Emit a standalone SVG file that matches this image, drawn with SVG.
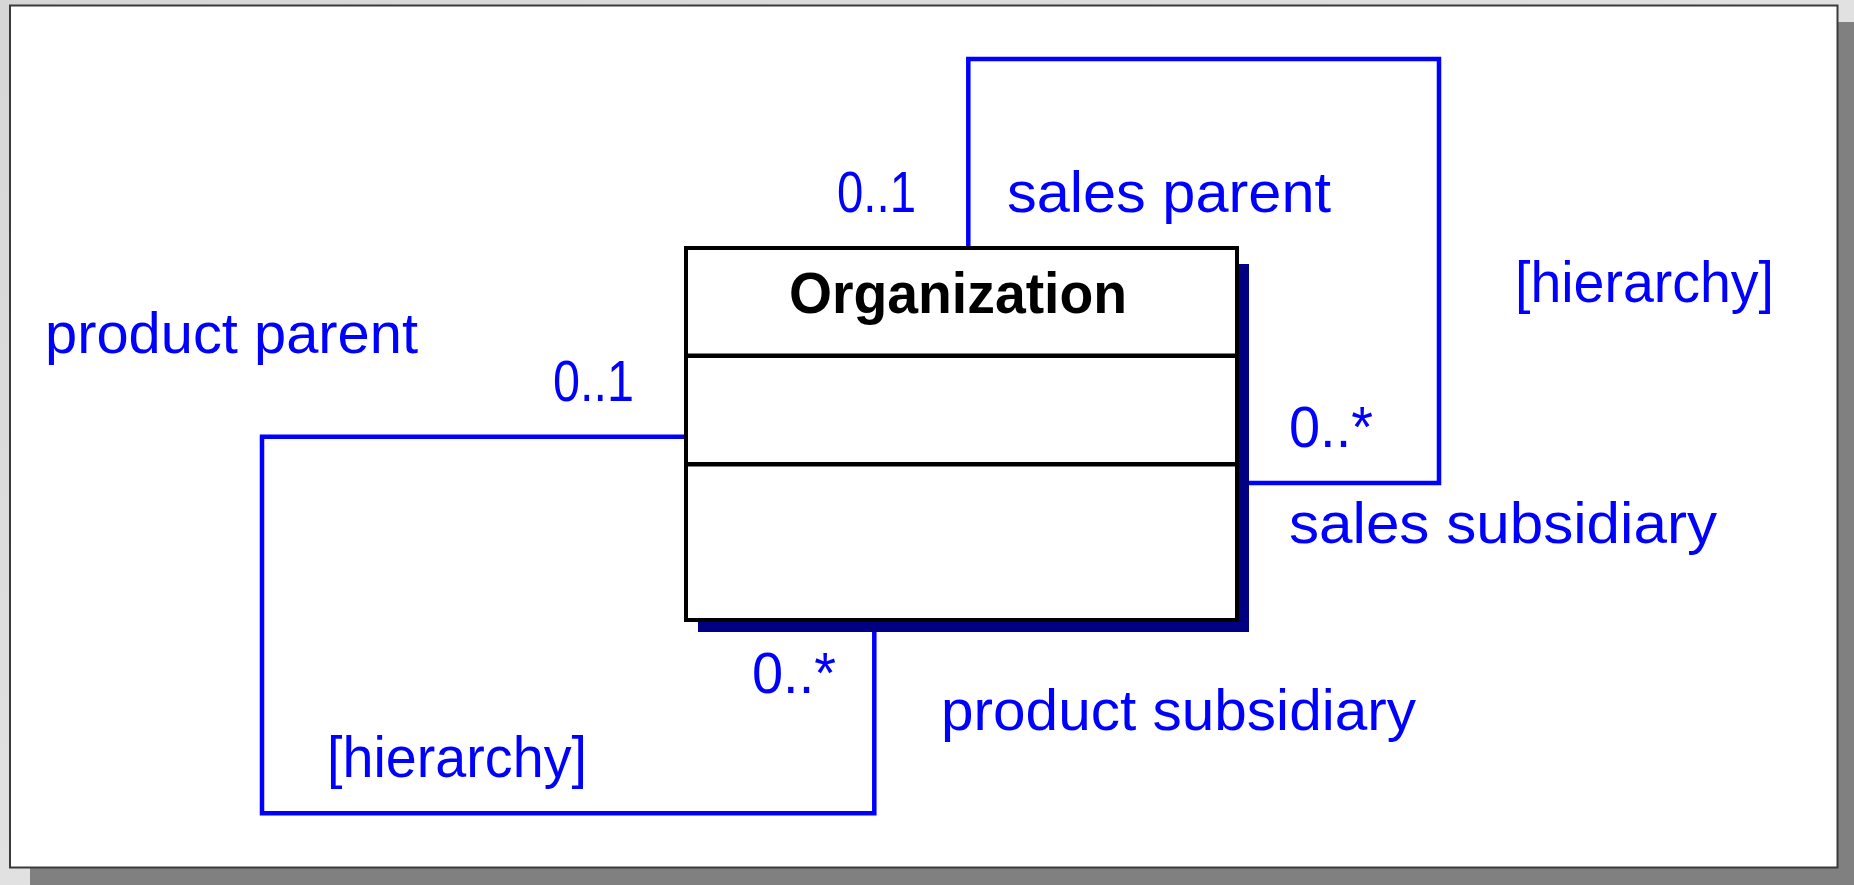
<svg xmlns="http://www.w3.org/2000/svg" width="1854" height="885" viewBox="0 0 1854 885">
<defs>
<linearGradient id="bg" x1="0" y1="0" x2="1" y2="1">
<stop offset="0" stop-color="#d6d6d6"/>
<stop offset="1" stop-color="#ececec"/>
</linearGradient>
<style>
.lbl{font-family:"Liberation Sans",Arial,sans-serif;font-size:57px;fill:#0000ff}
.title{font-family:"Liberation Sans",Arial,sans-serif;font-size:57px;font-weight:bold;fill:#000}
.conn{fill:none;stroke:#0000ff;stroke-width:4.5}
.box{fill:#fff;stroke:#000;stroke-width:4}
.div{stroke:#000;stroke-width:4.5}
</style>
</defs>
<rect x="0" y="0" width="1854" height="885" fill="url(#bg)"/>
<rect x="30" y="22" width="1824" height="863" fill="#808080"/>
<rect x="10" y="5.5" width="1827.5" height="862" fill="#fff" stroke="#3a3a3a" stroke-width="2"/>

<g id="connectors">
<path class="conn" d="M968.3,246 V59 H1439 V483 H1249"/>
<path class="conn" d="M684,436.7 H262 V813.3 H874.3 V632"/>
</g>

<g id="organization">
<rect x="698" y="264" width="551" height="368" fill="#000080"/>
<rect class="box" x="686" y="248" width="551" height="372"/>
<line class="div" x1="686" y1="355.7" x2="1237" y2="355.7"/>
<line class="div" x1="686" y1="464.3" x2="1237" y2="464.3"/>
<text class="title" x="789" y="312.7" textLength="338" lengthAdjust="spacingAndGlyphs">Organization</text>
</g>

<g id="labels">
<text class="lbl" x="45" y="353.3" textLength="373" lengthAdjust="spacingAndGlyphs">product parent</text>
<text class="lbl" x="553" y="400.7" textLength="81" lengthAdjust="spacingAndGlyphs">0..1</text>
<text class="lbl" x="837" y="211.7" textLength="79" lengthAdjust="spacingAndGlyphs">0..1</text>
<text class="lbl" x="1007" y="211.7" textLength="324" lengthAdjust="spacingAndGlyphs">sales parent</text>
<text class="lbl" x="1515" y="302.3" textLength="259" lengthAdjust="spacingAndGlyphs">[hierarchy]</text>
<text class="lbl" x="1289" y="447.3" textLength="84" lengthAdjust="spacingAndGlyphs">0..*</text>
<text class="lbl" x="1289" y="542.7" textLength="428" lengthAdjust="spacingAndGlyphs">sales subsidiary</text>
<text class="lbl" x="752" y="693.3" textLength="84" lengthAdjust="spacingAndGlyphs">0..*</text>
<text class="lbl" x="941" y="730" textLength="475" lengthAdjust="spacingAndGlyphs">product subsidiary</text>
<text class="lbl" x="327" y="777.3" textLength="260" lengthAdjust="spacingAndGlyphs">[hierarchy]</text>
</g>
</svg>
